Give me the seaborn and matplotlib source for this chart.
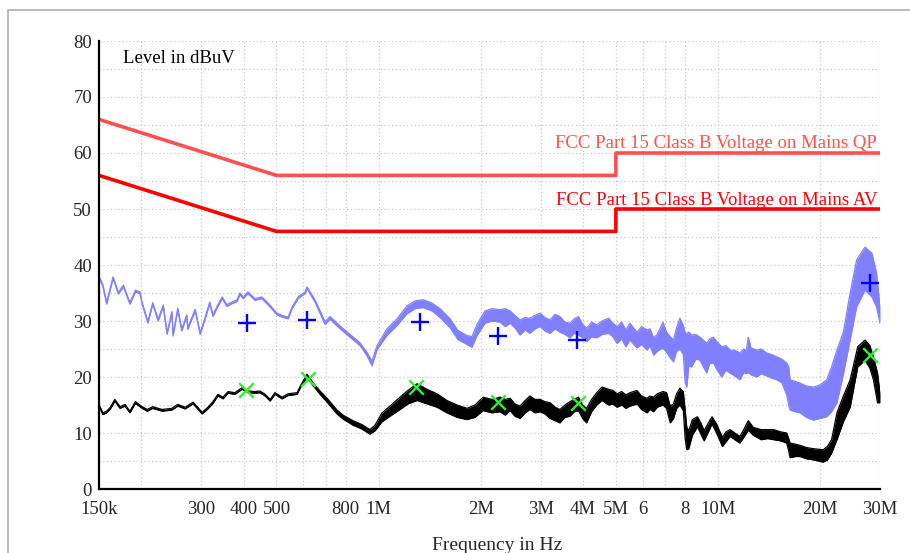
import numpy as np
import pandas as pd
import matplotlib
matplotlib.use('Agg')
import matplotlib.pyplot as plt
import seaborn as sns
from matplotlib.ticker import FixedLocator, NullLocator, MultipleLocator, FixedFormatter
from matplotlib.patches import Rectangle

# ---------------- data (frequency in MHz, level in dBuV) ----------------
limit_freq = [0.15, 0.5, 5.0, 5.0, 30.0]
limit_qp = [66, 56, 56, 60, 60]
limit_av = [56, 46, 46, 50, 50]

# peak detector trace: lower / upper edge of the drawn trace
peak_freq = [0.150, 0.154, 0.158, 0.165, 0.171, 0.177, 0.185, 0.192, 0.198, 0.201,
             0.209, 0.216, 0.224, 0.232, 0.238, 0.246, 0.248, 0.256, 0.263, 0.272,
             0.274, 0.288, 0.298, 0.308, 0.318, 0.325, 0.334, 0.346, 0.357, 0.370,
             0.383, 0.390, 0.399, 0.412, 0.432, 0.453, 0.472, 0.502, 0.519, 0.541,
             0.556, 0.579, 0.607, 0.615, 0.649, 0.695, 0.719, 0.770, 0.824, 0.881,
             0.924, 0.956, 0.989,
             1.058, 1.133, 1.212, 1.280, 1.351, 1.436, 1.517, 1.623, 1.713, 1.821,
             1.884, 1.949, 2.058, 2.157,
             2.28, 2.36, 2.44, 2.52, 2.61, 2.70, 2.79, 2.89, 2.99, 3.09,
             3.20, 3.31, 3.42, 3.54, 3.66, 3.77, 3.88, 3.99, 4.10, 4.24,
             4.39, 4.55, 4.76, 4.90, 5.04, 5.20, 5.35, 5.50, 5.77, 5.95,
             6.18, 6.30, 6.46, 6.62, 6.88, 7.05, 7.23, 7.39, 7.55, 7.72,
             7.90, 8.00, 8.09, 8.20, 8.36, 8.60, 8.85, 9.05, 9.26, 9.45,
             9.69, 9.95, 10.25, 10.55, 10.85, 11.2, 11.6, 11.9, 12.10, 12.28,
             12.50, 13.0, 13.4, 13.9, 14.4, 14.9, 15.4, 15.93, 16.15, 16.30,
             16.9, 17.44, 18.2, 19.1, 20.0, 20.9, 21.6, 22.4, 23.4, 24.5,
             25.6, 27.1, 28.4, 29.3, 30.0]
peak_lo = [37.7, 36.2, 33.0, 37.6, 34.8, 36.1, 33.0, 35.2, 34.9, 33.0,
           29.6, 33.0, 30.0, 32.6, 27.6, 31.4, 27.3, 32.0, 28.2, 30.8,
           28.5, 31.8, 27.6, 30.3, 33.1, 30.8, 32.3, 34.0, 32.6, 33.1,
           33.5, 34.7, 34.0, 34.9, 33.7, 34.0, 32.9, 31.1, 30.7, 30.4,
           32.2, 34.0, 34.9, 35.8, 33.4, 29.4, 30.3, 28.6, 27.1, 25.6,
           23.8, 22.0, 24.9,
           27.4, 29.2, 31.3, 32.2, 32.4, 31.8, 30.6, 28.8, 26.7, 25.8,
           25.3, 27.4, 29.6, 30.0,
           29.8, 29.0, 29.6, 28.8, 27.5, 28.4, 27.8, 28.6, 29.0, 28.2,
           27.8, 28.6, 28.0, 27.6, 27.0, 27.8, 27.5, 27.0, 26.3, 27.2,
           27.0, 27.6, 27.8, 27.2, 26.0, 26.8, 25.4, 26.6, 25.2, 25.8,
           24.8, 25.6, 23.9, 24.6, 25.2, 24.4, 23.4, 22.7, 24.6, 25.0,
           24.0, 19.0, 18.2, 22.0, 21.8, 23.2, 23.0, 21.8, 20.7, 22.4,
           22.5, 21.2, 20.0, 21.2, 20.7, 20.2, 19.5, 20.8, 20.6, 20.8,
           20.4, 20.0, 20.6, 20.2, 19.8, 19.5, 19.0, 16.8, 15.0, 14.1,
           13.8, 13.6, 12.8, 12.3, 12.6, 12.9, 13.8, 15.4, 20.5, 26.6,
           32.5, 35.5, 34.3, 32.5, 29.6]
peak_hi = [38.0, 36.5, 33.3, 37.9, 35.1, 36.4, 33.3, 35.5, 35.2, 33.3,
           29.9, 33.3, 30.3, 32.9, 27.9, 31.7, 27.6, 32.3, 28.5, 31.1,
           28.8, 32.1, 27.9, 30.6, 33.4, 31.1, 32.6, 34.3, 32.9, 33.4,
           33.8, 35.0, 34.3, 35.2, 34.0, 34.3, 33.2, 31.4, 31.0, 30.7,
           32.5, 34.3, 35.2, 36.1, 33.8, 29.9, 30.8, 29.1, 27.6, 26.1,
           24.4, 22.8, 25.6,
           28.6, 30.4, 32.7, 33.6, 33.8, 33.2, 32.2, 30.4, 28.3, 27.4,
           27.2, 29.4, 31.8, 32.2,
           32.0, 32.2, 31.8, 31.0, 30.2, 30.6, 30.5, 31.0, 31.4, 30.6,
           30.2, 31.2, 30.8, 29.8, 29.6, 30.4, 30.8, 29.4, 28.7, 29.8,
           29.3, 30.0, 30.5, 29.6, 29.0, 29.8, 28.4, 29.6, 28.0, 29.0,
           28.4, 28.6, 27.0, 27.6, 29.8, 28.0, 27.2, 26.6, 28.8, 30.5,
           29.2, 27.8, 27.8, 28.0, 27.5, 27.6, 27.1, 26.6, 26.0, 26.8,
           27.1, 26.2, 25.4, 25.6, 24.8, 24.8, 24.3, 25.0, 24.6, 27.1,
           25.2, 24.8, 25.0, 24.3, 24.0, 23.6, 23.2, 22.5, 21.8, 19.5,
           19.2, 18.9, 18.4, 18.2, 18.6, 19.5, 21.8, 24.8, 28.0, 35.0,
           40.9, 43.2, 42.1, 38.6, 32.5]

# average detector trace: lower / upper edge of the drawn trace
avg_freq = [0.151, 0.154, 0.158, 0.162, 0.167, 0.173, 0.179, 0.185, 0.192, 0.201,
            0.208, 0.216, 0.230, 0.246, 0.256, 0.269, 0.284, 0.302, 0.314, 0.325,
            0.336, 0.348, 0.360, 0.377, 0.396, 0.412, 0.432, 0.447, 0.463, 0.479,
            0.495, 0.519, 0.541, 0.575, 0.587, 0.615, 0.640, 0.672, 0.705, 0.754,
            0.785, 0.840, 0.893, 0.943, 0.976,
            1.023, 1.080, 1.156, 1.220, 1.298, 1.388, 1.486, 1.590, 1.701, 1.821,
            1.923, 2.030, 2.157,
            2.28, 2.36, 2.44, 2.52, 2.61, 2.70, 2.79, 2.89, 2.99, 3.09,
            3.20, 3.31, 3.42, 3.54, 3.66, 3.77, 3.88, 3.99, 4.10, 4.24,
            4.39, 4.55, 4.76, 4.90, 5.04, 5.20, 5.35, 5.50, 5.77, 5.95,
            6.18, 6.30, 6.46, 6.62, 6.88, 7.05, 7.23, 7.39, 7.55, 7.72,
            7.90,
            8.00, 8.09, 8.20, 8.40, 8.70, 8.90, 9.10, 9.40, 9.60, 9.90,
            10.30, 10.55, 10.85, 11.2, 11.6, 11.9, 12.28, 12.70, 13.4, 14.0,
            14.6, 15.3, 15.93, 16.15, 16.30, 16.9, 17.44, 18.2, 19.1, 20.4,
            21.0, 21.6, 22.4, 23.4, 24.5, 25.8, 27.1, 28.0, 28.7, 29.5,
            30.0]
avg_lo = [14.4, 13.3, 13.6, 14.3, 15.7, 14.4, 14.8, 13.6, 15.3, 14.4,
          13.9, 14.4, 13.9, 14.1, 14.8, 14.3, 15.2, 13.4, 14.3, 15.3,
          16.6, 16.1, 17.1, 16.9, 17.8, 17.2, 17.1, 17.2, 16.6, 15.7,
          16.9, 16.1, 16.7, 16.9, 18.0, 20.0, 18.5, 16.9, 15.5, 13.4,
          12.5, 11.4, 10.7, 9.8, 10.4,
          12.0, 13.0, 14.2, 15.2, 15.8, 15.2, 14.6, 13.6, 12.8, 12.4,
          12.8, 14.0, 13.6,
          13.8, 13.2, 14.0, 13.0, 12.6, 13.6, 14.2, 13.6, 13.8, 13.4,
          12.6, 12.2, 11.8, 12.8, 13.0, 13.8, 14.0, 12.6, 11.8, 13.8,
          15.0, 15.8, 15.0, 15.2, 14.6, 15.0, 14.4, 14.8, 15.2, 14.2,
          13.6, 14.2, 13.8, 14.6, 15.0, 14.4, 11.8, 12.6, 14.4, 15.0,
          14.0,
          9.0, 7.0, 7.2, 9.6, 11.1, 9.8, 8.6, 10.4, 11.6, 10.0,
          7.6, 8.4, 9.4, 8.8, 8.2, 9.2, 10.5, 9.6, 8.8, 9.0,
          8.8, 8.6, 8.2, 6.8, 5.6, 5.8, 5.8, 5.4, 5.2, 4.8,
          5.2, 6.4, 8.8, 12.0, 14.6, 21.8, 23.0, 21.6, 19.5, 15.4,
          15.4]
avg_hi = [14.7, 13.6, 13.9, 14.6, 16.0, 14.7, 15.1, 13.9, 15.6, 14.7,
          14.2, 14.7, 14.2, 14.4, 15.1, 14.6, 15.5, 13.7, 14.6, 15.6,
          16.9, 16.4, 17.4, 17.2, 18.1, 17.5, 17.4, 17.5, 16.9, 16.0,
          17.2, 16.4, 17.0, 17.2, 18.3, 20.5, 19.0, 17.5, 16.2, 14.1,
          13.2, 12.2, 11.5, 10.6, 11.4,
          13.6, 14.8, 16.4, 17.6, 18.8, 17.8, 17.0, 15.8, 15.0, 14.4,
          15.0, 16.4, 16.0,
          16.4, 16.0, 16.2, 15.2, 14.8, 15.8, 16.6, 16.0, 16.0, 15.6,
          15.4, 14.6, 14.2, 15.0, 15.6, 16.0, 16.4, 15.0, 14.4, 16.0,
          17.2, 18.2, 17.8, 17.6, 17.0, 17.4, 16.8, 17.2, 17.6, 16.6,
          16.2, 16.6, 16.4, 17.0, 17.4, 17.2, 14.8, 15.2, 17.0, 18.0,
          17.4,
          14.0, 11.0, 10.4, 12.4, 12.9, 11.8, 10.4, 12.0, 12.9, 11.6,
          9.2, 10.2, 10.6, 10.0, 9.4, 10.6, 12.2, 11.0, 10.6, 10.6,
          10.6, 10.2, 10.0, 9.0, 8.2, 8.0, 7.8, 7.4, 7.2, 7.0,
          7.6, 8.8, 13.6, 16.6, 19.5, 25.4, 26.6, 25.6, 23.6, 20.7,
          17.1]

qp_mark_freq = [0.409, 0.615, 1.324, 2.247, 3.84, 28.0]
qp_mark_level = [29.6, 30.2, 29.8, 27.3, 26.6, 36.8]
av_mark_freq = [0.406, 0.618, 1.29, 2.247, 3.867, 28.0]
av_mark_level = [17.7, 19.6, 18.2, 15.5, 15.4, 23.9]

tick_freq = [0.15, 0.2, 0.3, 0.4, 0.5, 0.6, 0.7, 0.8, 1, 2, 3, 4, 5, 6, 7, 8, 10, 20, 30]
tick_labels = ['150k', '', '300', '400', '500', '', '', '800', '1M', '2M', '3M', '4M',
               '5M', '6', '', '8', '10M', '20M', '30M']
y_ticks = [0, 10, 20, 30, 40, 50, 60, 70, 80]

qp_label = 'FCC Part 15 Class B Voltage on Mains QP'
av_label = 'FCC Part 15 Class B Voltage on Mains AV'

# ---------------- style ----------------
sns.set_style('white')
plt.rcParams['font.family'] = ['Liberation Serif', 'DejaVu Serif']
FS = 13.5
plt.rcParams['font.size'] = FS

W, H = 910, 553
fig = plt.figure(figsize=(W / 100, H / 100), dpi=100)
ax = fig.add_axes([99 / W, 1 - 489 / H, (880 - 99) / W, (489 - 41) / H])

ax.set_xscale('log')
ax.set_xlim(0.15, 30)
ax.set_ylim(0, 80)

ax.xaxis.set_major_locator(FixedLocator(tick_freq))
ax.xaxis.set_major_formatter(FixedFormatter(tick_labels))
ax.xaxis.set_minor_locator(NullLocator())
ax.yaxis.set_major_locator(FixedLocator(y_ticks))
ax.yaxis.set_minor_locator(MultipleLocator(5))
ax.grid(True, which='major', axis='both', color='#c8c8c8', linestyle=(0, (1, 2)), linewidth=0.9)
ax.grid(True, which='minor', axis='y', color='#c8c8c8', linestyle=(0, (1, 2)), linewidth=0.9)
ax.set_axisbelow(True)

# limit lines
sns.lineplot(x=limit_freq, y=limit_qp, ax=ax, color='#ff5050', linewidth=2.6,
             estimator=None, sort=False, legend=False)
sns.lineplot(x=limit_freq, y=limit_av, ax=ax, color='#ff0000', linewidth=2.6,
             estimator=None, sort=False, legend=False)

# peak trace (blue)
blue = '#8080ff'
ax.fill_between(peak_freq, peak_lo, peak_hi, color=blue, linewidth=0)
sns.lineplot(x=peak_freq, y=peak_lo, ax=ax, color=blue, linewidth=0.9, estimator=None, sort=False)
sns.lineplot(x=peak_freq, y=peak_hi, ax=ax, color=blue, linewidth=0.9, estimator=None, sort=False)

# average trace (black)
ax.fill_between(avg_freq, avg_lo, avg_hi, color='black', linewidth=0)
sns.lineplot(x=avg_freq, y=avg_lo, ax=ax, color='black', linewidth=0.9, estimator=None, sort=False)
sns.lineplot(x=avg_freq, y=avg_hi, ax=ax, color='black', linewidth=0.9, estimator=None, sort=False)

# final measurement markers
sns.scatterplot(x=qp_mark_freq, y=qp_mark_level, ax=ax, marker='+', s=170,
                color='#0000ff', linewidth=1.7, zorder=5)
sns.scatterplot(x=av_mark_freq, y=av_mark_level, ax=ax, marker='x', s=110,
                color='#33ee33', linewidth=1.7, zorder=5)

# texts
ax.text(29.3, 60.9, qp_label, color='#ff5050', ha='right', va='baseline', fontsize=FS)
ax.text(29.5, 50.7, av_label, color='#ff0000', ha='right', va='baseline', fontsize=FS)
ax.text(0.1766, 76.1, 'Level in dBuV', color='black', ha='left', va='baseline', fontsize=FS)
fig.text(497 / W, 1 - 550 / H, 'Frequency in Hz', ha='center', va='baseline', fontsize=FS + 0.5)

# spines and ticks
for s in ['top', 'right']:
    ax.spines[s].set_visible(False)
for s in ['left', 'bottom']:
    ax.spines[s].set_color('black')
    ax.spines[s].set_linewidth(1.6)
ax.tick_params(axis='both', which='both', direction='inout', length=8, width=1.4,
               color='black', labelsize=FS)
ax.tick_params(axis='y', pad=1)
ax.tick_params(axis='x', pad=5)
ax.set_xlabel('')
ax.set_ylabel('')

# figure frame
fig.patches.append(Rectangle((8 / W, -0.2), 1.2, 1.2 - 10 / H, transform=fig.transFigure,
                             fill=False, edgecolor='#b4b4b4', linewidth=1.3, clip_on=False))

fig.savefig('out.png', dpi=100)
